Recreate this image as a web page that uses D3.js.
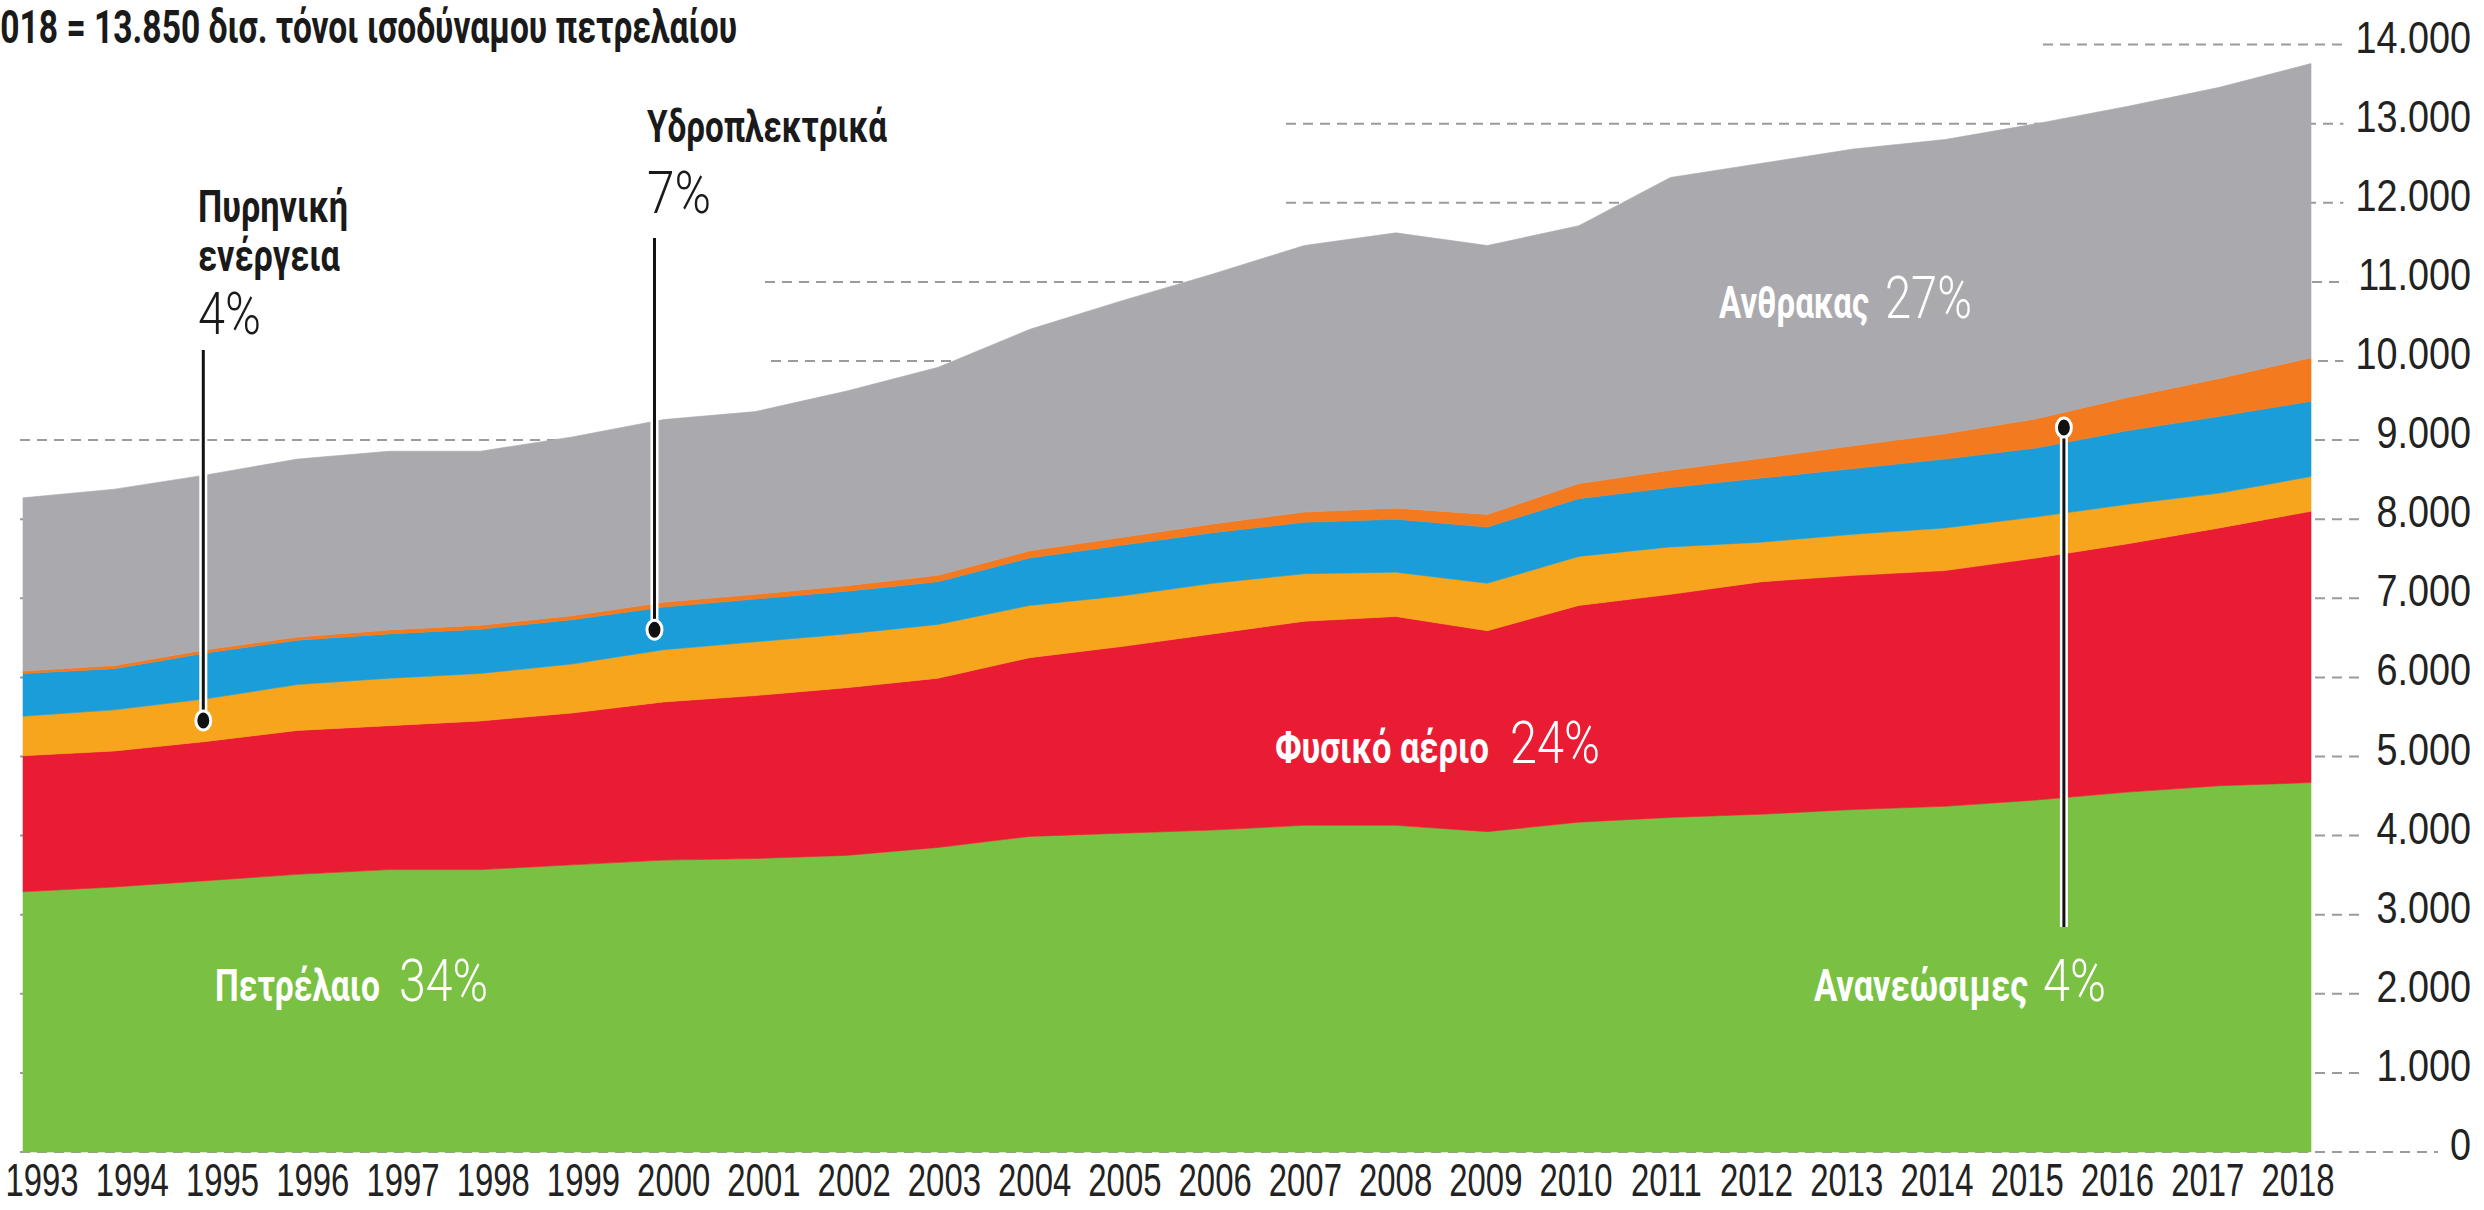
<!DOCTYPE html>
<html>
<head>
<meta charset="utf-8">
<script src="https://cdn.jsdelivr.net/npm/d3@7"></script>
<style>
html,body{margin:0;padding:0;background:#fff;overflow:hidden}
svg{display:block}
</style>
</head>
<body>
<svg id="chart" width="2484" height="1210"></svg>
<script>
// ---------------- DATA (million tonnes of oil equivalent) ----------------
const years = [1993,1994,1995,1996,1997,1998,1999,2000,2001,2002,2003,2004,2005,2006,2007,2008,2009,2010,2011,2012,2013,2014,2015,2016,2017,2018];
const oil        = [3290,3350,3430,3510,3570,3570,3630,3690,3710,3750,3850,3990,4030,4070,4130,4130,4050,4170,4230,4270,4330,4370,4450,4550,4630,4670];
const gas        = [1720,1720,1760,1820,1820,1880,1920,2000,2060,2120,2140,2260,2360,2480,2580,2640,2540,2740,2820,2940,2960,2980,3060,3140,3260,3430];
const nuclear    = [500,520,540,580,600,600,620,660,680,680,680,660,640,640,600,560,600,620,600,500,520,540,520,500,440,440];
const hydro      = [540,520,580,560,560,560,560,540,540,540,540,600,640,640,650,670,710,730,750,810,830,870,870,930,970,950];
const renewables = [30,40,40,40,50,50,50,60,60,70,80,90,100,110,130,140,160,190,220,250,290,320,370,420,480,550];
const coal       = [2190,2230,2210,2250,2260,2200,2260,2310,2310,2460,2630,2800,2990,3160,3370,3480,3400,3260,3700,3730,3750,3720,3730,3680,3680,3720];

const seriesKeys   = ["oil","gas","nuclear","hydro","renewables","coal"];
const seriesNames  = ["Πετρέλαιο","Φυσικό αέριο","Πυρηνική ενέργεια","Υδροπλεκτρικά","Ανανεώσιμες","Ανθρακας"];
const seriesShares = ["34%","24%","4%","7%","4%","27%"];

const yTicks      = [0,1000,2000,3000,4000,5000,6000,7000,8000,9000,10000,11000,12000,13000,14000];
const yTickLabels = ["0","1.000","2.000","3.000","4.000","5.000","6.000","7.000","8.000","9.000","10.000","11.000","12.000","13.000","14.000"];
const yearLabels  = years.map(String);
const titleText   = "2018 = 13.850 δισ. τόνοι ισοδύναμου πετρελαίου";

// ---------------- STYLE / LAYOUT ----------------
const colors = {oil:"#7ac143", gas:"#ea1c34", nuclear:"#f7a51d", hydro:"#1b9dd9", renewables:"#f47a20", coal:"#aaaaae"};
const BOLD = "Roboto, 'Open Sans', 'Noto Sans', sans-serif";
const AXISF = "'Liberation Sans', Arial, sans-serif";
const gridStartX = {9000:20, 10000:771, 11000:765, 12000:1286, 13000:1286, 14000:2043};

const svg = d3.select("#chart");
const x = d3.scaleLinear().domain([1993, 2018]).range([23, 2311]);
const y = d3.scaleLinear().domain([0, 14000]).range([1152, 44.6]);
const xLab = d3.scalePoint().domain(yearLabels).range([42, 2298]);

function fitText(g, o) {
  const t = g.append("text")
    .attr("font-family", o.family || BOLD)
    .attr("font-size", o.size)
    .attr("font-weight", o.weight || 400)
    .attr("fill", o.fill || "#1a1a1a")
    .attr("text-anchor", o.anchor || "start")
    .text(o.text);
  const nat = t.node().getComputedTextLength();
  const sx = o.width ? o.width / nat : (o.sx || 1);
  t.attr("transform", `translate(${o.x},${o.y}) scale(${sx},1)`);
  return {node: t, sx: sx, w: nat * sx};
}

// ---------------- Y labels + gridlines ----------------
const gGrid = svg.append("g");
const gAxis = svg.append("g");
yTicks.forEach((v, i) => {
  const lab = fitText(gAxis, {text: yTickLabels[i], x: 2471, y: y(v) + 8, size: 45, family: AXISF,
                             anchor: "end", sx: 0.84, fill: "#222"});
  const endX = 2471 - lab.w - 12;
  const startX = gridStartX[v] !== undefined ? gridStartX[v] : 20;
  gGrid.append("line")
    .attr("x1", startX).attr("x2", endX)
    .attr("y1", y(v)).attr("y2", y(v))
    .attr("stroke", "#9b9b9b").attr("stroke-width", 2)
    .attr("stroke-dasharray", "10,7");
});

// ---------------- Stacked areas ----------------
const rows = years.map((yr, i) => ({year: yr, oil: oil[i], gas: gas[i], nuclear: nuclear[i],
  hydro: hydro[i], renewables: renewables[i], coal: coal[i]}));
const stacked = d3.stack().keys(seriesKeys)(rows);
const area = d3.area()
  .x(d => x(d.data.year))
  .y0(d => y(d[0]))
  .y1(d => y(d[1]));
svg.append("g").selectAll("path").data(stacked).join("path")
  .attr("d", area)
  .attr("fill", d => colors[d.key])
  .attr("stroke", d => colors[d.key])
  .attr("stroke-width", 0.6);

// ---------------- X labels ----------------
const gX = svg.append("g");
yearLabels.forEach(lbl => {
  fitText(gX, {text: lbl, x: xLab(lbl), y: 1196, size: 47, family: AXISF, anchor: "middle", sx: 0.70, fill: "#222"});
});

// ---------------- Title ----------------
(function(){
  const t = svg.append("text")
    .attr("font-family", BOLD).attr("font-size", 46).attr("font-weight", 700)
    .attr("fill", "#1a1a1a").attr("text-anchor", "end").text(titleText);
  const sub = t.node().getSubStringLength(1, titleText.length - 1);
  const sx = 737 / sub;
  t.attr("transform", `translate(737,43) scale(${sx},1)`);
})();

// ---------------- Pins ----------------
function bandMid(layerIdx, yr) {
  const L = stacked[layerIdx];
  const i = Math.min(Math.max(d3.bisectRight(years, yr) - 1, 0), years.length - 2);
  const t = (yr - years[i]) / (years[i+1] - years[i]);
  const a = (L[i][0] + L[i][1]) / 2, b = (L[i+1][0] + L[i+1][1]) / 2;
  return a + (b - a) * t;
}
const pins = [
  {layer: 2, year: 1994.97, end: 350},
  {layer: 3, year: 1999.9, end: 238},
  {layer: 4, year: 2015.3, end: 927}
];
const gPins = svg.append("g");
pins.forEach(p => {
  const px = x(p.year), py = y(bandMid(p.layer, p.year));
  gPins.append("line").attr("x1", px).attr("x2", px).attr("y1", py).attr("y2", p.end)
    .attr("stroke", "#fff").attr("stroke-width", 8);
  gPins.append("line").attr("x1", px).attr("x2", px).attr("y1", py).attr("y2", p.end)
    .attr("stroke", "#111").attr("stroke-width", 3);
  gPins.append("ellipse").attr("cx", px).attr("cy", py).attr("rx", 7.5).attr("ry", 9.5)
    .attr("fill", "#111").attr("stroke", "#fff").attr("stroke-width", 3);
});

// ---------------- Labels ----------------
const gL = svg.append("g");
const PW = 300;
// Nuclear
fitText(gL, {text: "Πυρηνική", x: 198, y: 222, size: 44, weight: 700, width: 150});
fitText(gL, {text: "ενέργεια", x: 198, y: 271, size: 44, weight: 700, width: 142});
fitText(gL, {text: seriesShares[2], x: 198, y: 334, size: 60, weight: PW, width: 63});
// Hydro
fitText(gL, {text: seriesNames[3], x: 647, y: 142, size: 44, weight: 700, width: 240});
fitText(gL, {text: seriesShares[3], x: 647, y: 213, size: 60, weight: PW, width: 64});
// Coal
fitText(gL, {text: seriesNames[5], x: 1719, y: 318, size: 44, weight: 700, width: 150, fill: "#fff"});
fitText(gL, {text: seriesShares[5], x: 1885, y: 318, size: 60, weight: PW, width: 87, fill: "#fff"});
// Gas
fitText(gL, {text: seriesNames[1], x: 1275, y: 763, size: 44, weight: 700, width: 214, fill: "#fff"});
fitText(gL, {text: seriesShares[1], x: 1510, y: 763, size: 60, weight: PW, width: 90, fill: "#fff"});
// Oil
fitText(gL, {text: seriesNames[0], x: 215, y: 1001, size: 44, weight: 700, width: 165, fill: "#fff"});
fitText(gL, {text: seriesShares[0], x: 399, y: 1001, size: 60, weight: PW, width: 89, fill: "#fff"});
// Renewables
fitText(gL, {text: seriesNames[4], x: 1814, y: 1001, size: 44, weight: 700, width: 214, fill: "#fff"});
fitText(gL, {text: seriesShares[4], x: 2043, y: 1001, size: 60, weight: PW, width: 63, fill: "#fff"});
</script>
</body>
</html>
